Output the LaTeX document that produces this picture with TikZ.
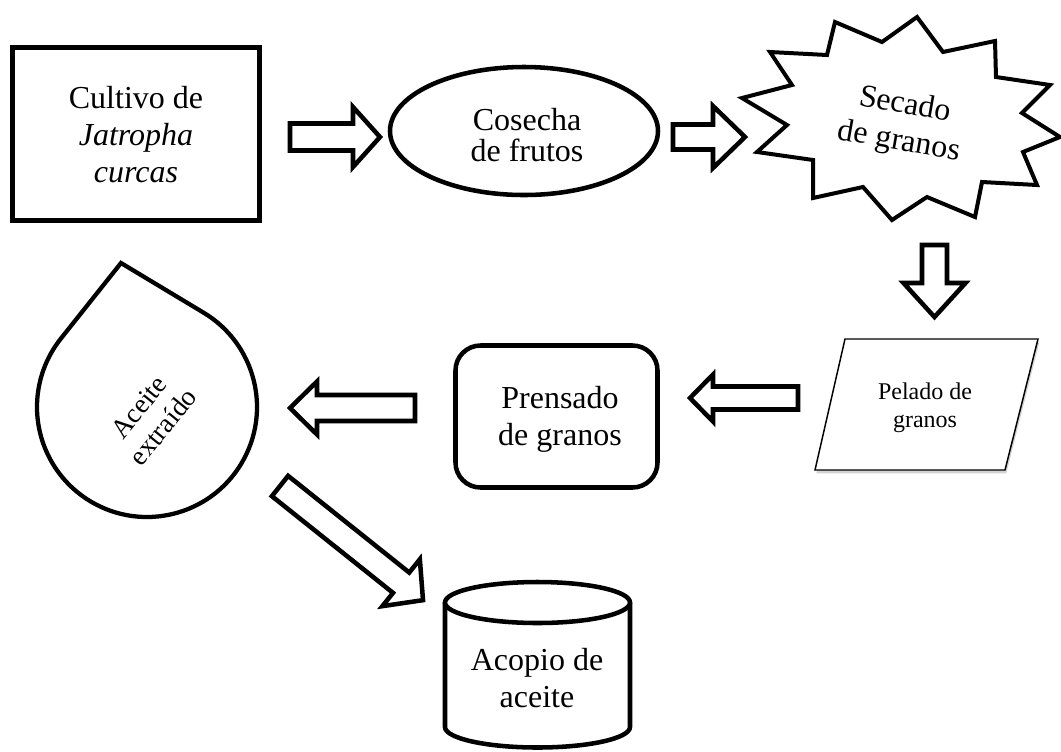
\documentclass[tikz,border=0pt]{standalone}
\usepackage{fontspec}
\setmainfont{Liberation Serif}
\usetikzlibrary{shapes.geometric,shadows}
\newcommand\mainfs{\fontsize{24pt}{28pt}\selectfont}
\newcommand\blockarrow[6]{% #1 tail, #2 angle, #3 length, #4 shaft half, #5 head half, #6 head length
  \begin{scope}[shift={#1}, rotate=#2]
    \draw[barr] (0,-#4) -- ({#3-#6},-#4) -- ({#3-#6},-#5) -- (#3,0) -- ({#3-#6},#5) -- ({#3-#6},#4) -- (0,#4) -- cycle;
  \end{scope}}
\begin{document}
\begin{tikzpicture}[x=0.75pt,y=-0.75pt,
  shp/.style={draw=black, line width=3.4pt, fill=white},
  txt/.style={align=center, inner sep=0pt, font=\mainfs},
  barr/.style={draw=black, line width=3.4pt, line join=miter, fill=white}]
\useasboundingbox (0,0) rectangle (1061,751);

% Cultivo (rectangle)
\node[shp, rectangle, line width=3.75pt, minimum width=184.9pt, minimum height=129.4pt, inner sep=0pt] (cultivo) at (135.75,133.75) {};
\node[txt] (cultivoT) at (136,134.5) {Cultivo de\\\textit{Jatropha}\\\textit{curcas}};

% Cosecha (ellipse)
\node[shp, ellipse, minimum width=201pt, minimum height=96pt, inner sep=0pt] (cosecha) at (524,131) {};
\node[txt, font=\fontsize{24pt}{23.5pt}\selectfont] (cosechaT) at (527,135) {Cosecha\\de frutos};

% Secado (star)
\draw[shp, line width=3pt, line join=miter] (917,17) -- (943,52) -- (995,41) -- (996,77) -- (1050,85) -- (1022,113) -- (1060,137) -- (1023,152) -- (1037,185) -- (982,182) -- (975,217) -- (927,197) -- (892,220) -- (863,187) -- (813,198) -- (813,160) -- (757,152) -- (787,125) -- (742,98) -- (792,85) -- (770,52) -- (827,55) -- (835,22) -- (882,42) -- cycle;
\node[txt, rotate=-10] (secado) at (902,124) {Secado\\de granos};

% Pelado (parallelogram)
\draw[line width=1.1pt, fill=white, line join=miter, drop shadow={shadow xshift=1pt, shadow yshift=-2.5pt, opacity=0.35}] (845,339) -- (1038,339) -- (1005,470) -- (815,470) -- cycle;
\node[txt, font=\fontsize{18pt}{21pt}\selectfont] (pelado) at (925,408) {Pelado de\\granos};

% Prensado (rounded rectangle)
\node[shp, rectangle, rounded corners=18.75pt, minimum width=151.5pt, minimum height=106.5pt, inner sep=0pt] (prensado) at (556.5,416.5) {};
\node[txt] (prensadoT) at (560,419.5) {Prensado\\de granos};

% Aceite (drop)
\coordinate (tip) at (121,263);
\coordinate (tan1) at (203.65,312.7);
\draw[shp, line width=3.2pt] (tip) -- (tan1) arc[start angle=59, end angle=-218.6, radius=82.5pt] -- cycle;
\node[txt, rotate=51, font=\fontsize{20.5pt}{23.5pt}\selectfont] (aceite) at (151,417) {Aceite\\extraído};

% Acopio (cylinder)
\draw[shp] (445,602.5) -- (445,727) arc[start angle=180, end angle=360, x radius=69.375pt, y radius=15.375pt] -- (630,602.5);
\draw[shp] (537.5,602.5) ellipse [x radius=69.375pt, y radius=15.375pt];
\node[txt] (acopio) at (537,678) {Acopio de\\aceite};

% Block arrows
\coordinate (a1) at (290,137);
\coordinate (a2) at (673,137);
\coordinate (a3) at (934.5,245);
\coordinate (a4) at (798,398);
\coordinate (a5) at (415,408);
\coordinate (a6) at (280,486);
\blockarrow{(a1)}{0}{90}{13.5}{30}{27}
\blockarrow{(a2)}{0}{72}{12.5}{31}{32}
\blockarrow{(a3)}{-90}{72}{12.5}{31}{34}
\blockarrow{(a4)}{180}{108}{11.5}{23.5}{23}
\blockarrow{(a5)}{180}{125}{13}{26.5}{27}
\blockarrow{(a6)}{-38.6}{183}{13}{30}{28}
\end{tikzpicture}
\end{document}
